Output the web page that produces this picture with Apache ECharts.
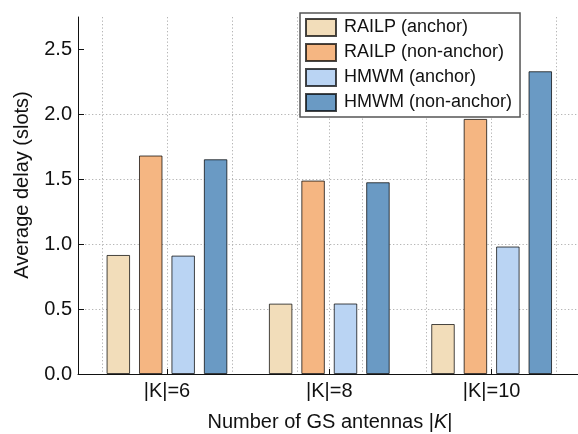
<!DOCTYPE html>
<html><head><meta charset="utf-8">
<script src="https://cdn.jsdelivr.net/npm/echarts@6/dist/echarts.min.js"></script>
<style>html,body{margin:0;padding:0;background:#fff}#c{width:578px;height:434px}</style>
</head><body><div id="c"></div>
<script>
// ---- data ----
const categories = ['|K|=6', '|K|=8', '|K|=10'];
const seriesNames = ['RAILP (anchor)', 'RAILP (non-anchor)', 'HMWM (anchor)', 'HMWM (non-anchor)'];
const railpAnchor = [0.917, 0.542, 0.385];
const railpNonAnchor = [1.683, 1.490, 1.965];
const hmwmAnchor = [0.912, 0.543, 0.982];
const hmwmNonAnchor = [1.654, 1.477, 2.332];
const yTicks = [0, 0.5, 1.0, 1.5, 2.0, 2.5];

// ---- layout / style ----
const FONT = '"Liberation Sans", Arial, Helvetica, sans-serif';
const colors = ['#F2DDBA', '#F5B682', '#BAD4F3', '#6A9AC4'];
const groupStep = 2.5;
const groupPos = categories.map((_, i) => i * groupStep);
const vGrid = [-1, 0, 1, 2, 2.5, 3, 4, 5, 6];
const xMin = -1.37, xMax = 6.33;
const gridLine = { show: true, lineStyle: { color: '#b5b5b5', width: 1, type: [1.3, 2.2] } };
const allValues = [railpAnchor, railpNonAnchor, hmwmAnchor, hmwmNonAnchor];

const chart = echarts.init(document.getElementById('c'), null, { renderer: 'canvas' });
chart.setOption({
  animation: false,
  backgroundColor: '#fff',
  textStyle: { fontFamily: FONT },
  grid: { left: 78, right: 0, top: 17, bottom: 60, containLabel: false },
  legend: {
    data: seriesNames,
    orient: 'vertical',
    left: 300, top: 13,
    padding: [5, 8, 5, 5],
    itemWidth: 30, itemHeight: 17, itemGap: 6,
    icon: 'rect',
    backgroundColor: '#fff',
    borderColor: '#555', borderWidth: 1.5, borderRadius: 0,
    textStyle: { fontFamily: FONT, fontSize: 18, color: '#111', padding: [0, 0, 0, 3] }
  },
  xAxis: [{
    type: 'value', min: xMin, max: xMax,
    axisLine: { show: true, onZero: false, lineStyle: { color: '#111', width: 1 } },
    axisTick: { show: true, inside: true, length: 5, customValues: groupPos, lineStyle: { color: '#111' } },
    axisLabel: { show: true, customValues: groupPos, margin: 7, fontSize: 20, color: '#111', fontFamily: FONT,
      formatter: v => categories[Math.round(v / groupStep)] },
    splitLine: { show: false }
  }, {
    type: 'value', min: xMin, max: xMax, position: 'top',
    axisLine: { show: false },
    axisTick: { show: false, customValues: vGrid },
    axisLabel: { show: false, customValues: vGrid },
    splitLine: gridLine
  }],
  yAxis: {
    type: 'value', min: 0, max: 2.75, interval: 0.5,
    axisLine: { show: true, onZero: false, lineStyle: { color: '#111', width: 1 } },
    axisTick: { show: true, inside: true, length: 6, customValues: yTicks, lineStyle: { color: '#111' } },
    axisLabel: { customValues: yTicks, margin: 6, fontSize: 20, color: '#111', fontFamily: FONT,
      formatter: v => v.toFixed(1) },
    splitLine: Object.assign({ showMaxLine: false, showMinLine: false }, gridLine)
  },
  graphic: [{
    type: 'text', x: 22, y: 185, rotation: Math.PI / 2,
    style: { text: 'Average delay (slots)', font: '20px ' + FONT, fill: '#111', align: 'center', verticalAlign: 'middle' }
  }, {
    type: 'text', x: 330, y: 422,
    style: {
      text: 'Number of GS antennas |{i|K}|',
      font: '20px ' + FONT, fill: '#111', align: 'center', verticalAlign: 'middle',
      rich: { i: { font: 'italic 20px ' + FONT, fill: '#111' } }
    }
  }],
  series: seriesNames.map((name, s) => ({
    name, type: 'bar', xAxisIndex: 0,
    barWidth: 23.5, barGap: '38%',
    itemStyle: { color: colors[s], borderColor: 'rgba(0,0,0,0.72)', borderWidth: 1 },
    data: groupPos.map((x, i) => [x, allValues[s][i]])
  }))
});
</script>
</body></html>
